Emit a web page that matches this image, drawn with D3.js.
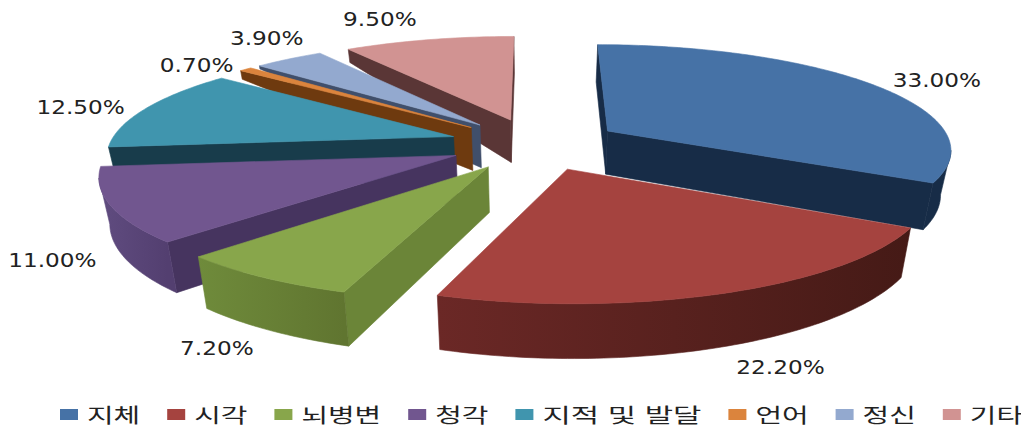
<!DOCTYPE html>
<html lang="ko">
<head>
<meta charset="utf-8">
<title>장애 유형별 비율</title>
<script src="https://cdn.jsdelivr.net/npm/d3@7"></script>
<style>
  html, body { margin: 0; padding: 0; background: #fff; }
  svg { display: block; }
</style>
</head>
<body>
<svg id="chart" width="1021" height="428"></svg>
<script>
// Values and names of the disability categories
const categories = ["지체", "시각", "뇌병변", "청각", "지적 및 발달", "언어", "정신", "기타"];
const shares = [33.0, 22.2, 7.2, 11.0, 12.5, 0.7, 3.9, 9.5];
const shareLabels = ["33.00%", "22.20%", "7.20%", "11.00%", "12.50%", "0.70%", "3.90%", "9.50%"];

// Slice colours: top face, radial wall, rim wall at the two ends of the arc
const topColors  = ["#4672a6", "#a5433f", "#88a64b", "#71568f", "#4095ae", "#db843d", "#93a9cf", "#d19392"];
const wallColors = ["#172c47", "#4a1c18", "#6b8538", "#46345f", "#183c4b", "#6e3a0f", "#404f6b", "#5a3636"];
const rimFrom    = ["#172c47", "#451a16", "#607530", "#533f70", "#183c4b", "#6e3a0f", "#404f6b", "#5a3636"];
const rimTo      = ["#172c47", "#6b2826", "#6f8b3b", "#604c80", "#183c4b", "#6e3a0f", "#404f6b", "#5a3636"];

// How far each start wall reaches down at its outer end, and how slices stack
const farWallDepth = [1, 1, 1, 1, 1, 0.22, 0.08, 0.35];
const paintOrder = [7, 6, 5, 4, 3, 0, 2, 1];
const labelNudge = [[66, -4], [54, 74], [-46, 71], [-58, 55], [-65, -1], [-49, -4], [-22, -21], [-49, -20]];

const svg = d3.select("#chart");
const defs = svg.append("defs");

// Perspective camera: u to the right, v toward the viewer, z downward (0 top, 1 bottom)
const camera = { cx: 535, cy: 144, sx: 344, sy: 104, persp: 0.16, drop: 44, taper: 0.025 };
const explode = 0.25;

function project(u, v, z) {
  const w = 1 - camera.persp * v;
  return [
    camera.cx + camera.sx * u / w * (1 - camera.taper * z),
    camera.cy + (camera.sy * v + camera.drop * z) / w
  ];
}

const arcs = d3.pie().sort(null).value(d => d)(shares);
const line = d3.line();

// Plane position of a slice-relative point at a given radius and angle
function planePoint(arc, radius, angle) {
  const mid = (arc.startAngle + arc.endAngle) / 2;
  return [
    explode * Math.sin(mid) + radius * Math.sin(angle),
    -explode * Math.cos(mid) - radius * Math.cos(angle)
  ];
}

function cross(a, b, c) {
  return (b[0] - a[0]) * (c[1] - b[1]) - (b[1] - a[1]) * (c[0] - b[0]);
}

function polygon(group, pts, color) {
  group.append("path")
    .attr("d", line(pts) + "Z")
    .attr("fill", color)
    .attr("stroke", color)
    .attr("stroke-width", 0.6)
    .attr("stroke-linejoin", "round");
}

const pieGroup = svg.append("g").attr("class", "pie");

paintOrder.forEach(i => {
  const arc = arcs[i];
  const g = pieGroup.append("g").attr("class", "slice");
  const apex = planePoint(arc, 0, 0);
  const startRim = planePoint(arc, 1, arc.startAngle);
  const endRim = planePoint(arc, 1, arc.endAngle);

  // Radial walls, kept only when they turn toward the camera
  const startWall = [project(...apex, 0), project(...startRim, 0), project(...startRim, farWallDepth[i]), project(...apex, 1)];
  if (cross(startWall[0], startWall[1], startWall[2]) < 0) polygon(g, startWall, wallColors[i]);
  const endWall = [project(...apex, 0), project(...endRim, 0), project(...endRim, 1), project(...apex, 1)];
  if (cross(endWall[0], endWall[1], endWall[2]) > 0) polygon(g, endWall, wallColors[i]);

  // Rim and top-face outline are sampled along the arc
  const steps = Math.max(2, Math.ceil((arc.endAngle - arc.startAngle) * 180 / Math.PI));
  const angle = d3.scaleLinear().domain([0, steps]).range([arc.startAngle, arc.endAngle]);
  const samples = d3.range(steps + 1).map(k => planePoint(arc, 1, angle(k)));
  const rimTop = samples.map(p => project(...p, 0));
  const rimBottom = samples.map(p => project(...p, 1));

  // The rim wall faces the camera where the arc runs leftward on screen
  const visible = d3.range(steps).filter(k => rimTop[k + 1][0] < rimTop[k][0]);
  if (visible.length) {
    const first = visible[0];
    const last = visible[visible.length - 1] + 1;
    const top = rimTop.slice(first, last + 1);
    const bottom = rimBottom.slice(first, last + 1).reverse();
    const id = "rim-shade-" + i;
    const gradient = defs.append("linearGradient")
      .attr("id", id)
      .attr("gradientUnits", "userSpaceOnUse")
      .attr("x1", top[0][0]).attr("y1", 0)
      .attr("x2", top[top.length - 1][0]).attr("y2", 0);
    gradient.append("stop").attr("offset", 0).attr("stop-color", rimFrom[i]);
    gradient.append("stop").attr("offset", 1).attr("stop-color", rimTo[i]);
    polygon(g, top.concat(bottom), `url(#${id})`);
  }

  polygon(g, [project(...apex, 0)].concat(rimTop), topColors[i]);
});

// Percentage labels, stretched sideways like the rest of the lettering
svg.append("g").attr("class", "labels")
  .selectAll("text").data(arcs).join("text")
  .attr("transform", (d, i) => {
    const p = project(...planePoint(d, 1, (d.startAngle + d.endAngle) / 2), 0);
    return `translate(${p[0] + labelNudge[i][0]},${p[1] + labelNudge[i][1]}) scale(1.22,1)`;
  })
  .attr("text-anchor", "middle")
  .attr("dominant-baseline", "central")
  .attr("font-family", "'DejaVu Sans', sans-serif")
  .attr("font-size", 19)
  .attr("fill", "#222")
  .text((d, i) => shareLabels[i]);

// Legend laid out from the width of each name
const charWidth = c => c === " " ? 13 : 26.6;
const textWidth = s => d3.sum(Array.from(s), charWidth);
const swatch = 18, swatchGap = 9, itemGap = 27, legendLeft = 60, legendY = 414;
const lefts = d3.cumsum(categories, s => swatch + swatchGap + textWidth(s) + itemGap);

const legend = svg.append("g").attr("class", "legend")
  .selectAll("g").data(categories).join("g")
  .attr("transform", (d, i) => `translate(${legendLeft + (i ? lefts[i - 1] : 0)},${legendY})`);

legend.append("rect")
  .attr("x", 0).attr("y", -5)
  .attr("width", swatch).attr("height", 11)
  .attr("fill", (d, i) => topColors[i]);

legend.append("text")
  .attr("x", swatch + swatchGap)
  .attr("y", 0)
  .attr("dominant-baseline", "central")
  .attr("font-family", "'Noto Sans CJK KR', sans-serif")
  .attr("font-size", 20)
  .attr("fill", "#222")
  .attr("textLength", d => textWidth(d))
  .attr("lengthAdjust", "spacingAndGlyphs")
  .text(d => d);
</script>
</body>
</html>
